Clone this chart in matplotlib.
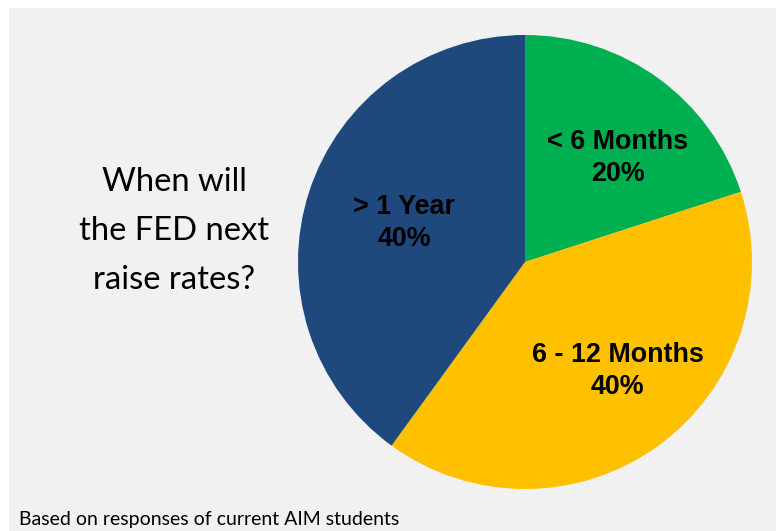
import numpy as np
import matplotlib
matplotlib.use("Agg")
import matplotlib.pyplot as plt
from matplotlib.patches import Rectangle

# Survey results
categories = ["< 6 Months", "6 - 12 Months", "> 1 Year"]
shares = [20, 40, 40]
colors = ["#00B050", "#FFC000", "#1F497D"]
# label placement inside each wedge: fraction of radius, angular nudge (deg)
label_dist = [0.615, 0.63, 0.56]
label_nudge = [-5.8, 4.5, 0.0]

title = "When will\nthe FED next\nraise rates?"
footer = "Based on responses of current AIM students"

W, H = 776, 531
fig = plt.figure(figsize=(W / 100, H / 100), dpi=100, facecolor="white")

ax = fig.add_axes([0, 0, 1, 1])
ax.set_facecolor("none")

# light gray panel
ax.add_patch(Rectangle((9, 0), W - 9, H - 8, facecolor="#F1F1F1",
                       edgecolor="none", zorder=0))

cx, cy, R = 525, H - 262, 227
wedges, _ = ax.pie(shares, colors=colors, startangle=90, counterclock=False,
                   radius=R, center=(cx, cy),
                   wedgeprops=dict(linewidth=0, antialiased=True, zorder=1))

for w, cat, val, d, dn in zip(wedges, categories, shares, label_dist, label_nudge):
    mid = np.deg2rad((w.theta1 + w.theta2) / 2 + dn)
    x = cx + d * R * np.cos(mid)
    y = cy + d * R * np.sin(mid)
    ax.text(x, y, f"{cat}\n{val}%", ha="center", va="center",
            fontsize=19.4, fontweight="bold", family="Liberation Sans",
            color="black", linespacing=1.28, zorder=3)

ax.text(174.5, H - 231, title, ha="center", va="center",
        fontsize=23.6, family="Lato", color="black", linespacing=1.78, zorder=3)
ax.text(19, H - 519, footer, ha="left", va="center",
        fontsize=14, family="Lato", color="black", zorder=3)

ax.set_xlim(0, W)
ax.set_ylim(0, H)
ax.set_aspect("equal")
ax.axis("off")

fig.savefig("out.png", dpi=100, facecolor=fig.get_facecolor())
